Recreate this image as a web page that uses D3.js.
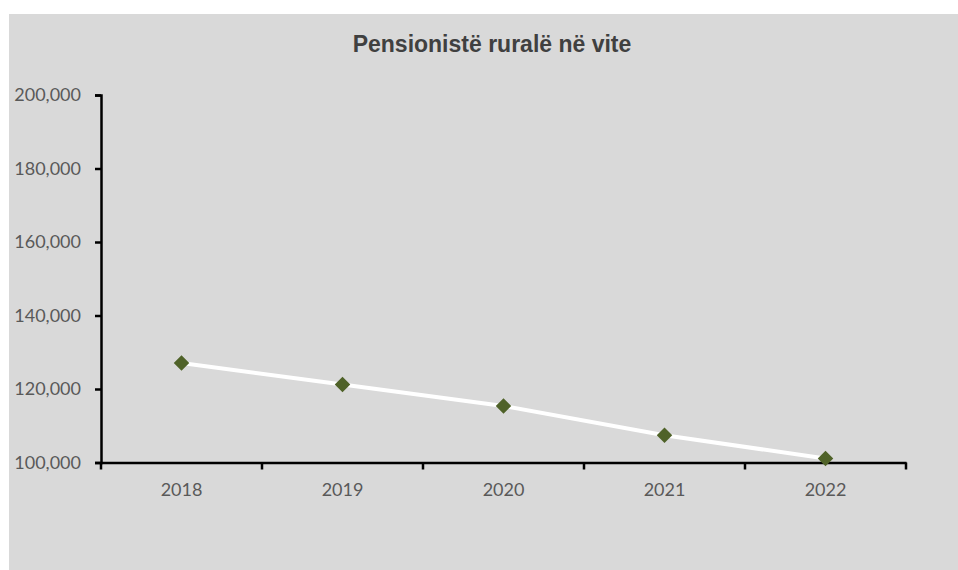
<!DOCTYPE html>
<html><head><meta charset="utf-8">
<script src="https://cdn.jsdelivr.net/npm/d3@7"></script>
<style>body{margin:0;background:#fff;}svg{display:block;}</style>
</head><body>
<svg id="c" width="958" height="570"></svg>
<script>
const title = "Pensionistë ruralë në vite";
const categories = ["2018", "2019", "2020", "2021", "2022"];
const values = [127100, 121200, 115400, 107400, 101100];
const yTicks = [100000, 120000, 140000, 160000, 180000, 200000];

const svg = d3.select("#c");
svg.append("rect").attr("x", 9).attr("y", 14).attr("width", 949).attr("height", 556).attr("fill", "#d9d9d9");

const m = {left: 101, right: 906, top: 95, bottom: 462.5};
const x = d3.scaleBand().domain(categories).range([m.left, m.right]);
const y = d3.scaleLinear().domain([100000, 200000]).range([m.bottom, m.top]);

svg.append("text").attr("x", 492).attr("y", 52).attr("text-anchor", "middle")
  .attr("font-family", "Liberation Sans, Arial, sans-serif").attr("font-weight", "bold")
  .attr("font-size", 23).attr("fill", "#404040").text(title);

// Y axis
const yAxis = d3.axisLeft(y).tickValues(yTicks).tickSize(6).tickPadding(14).tickFormat(d3.format(","));
const gy = svg.append("g").attr("transform", `translate(${m.left},0)`).call(yAxis);
gy.select(".domain").attr("stroke", "#000").attr("stroke-width", 2.5);
gy.selectAll(".tick line").attr("stroke", "#000").attr("stroke-width", 2.5);
gy.selectAll(".tick text").attr("font-family", "Lato, sans-serif").attr("font-size", 18).attr("fill", "#595959");

// X axis
const xAxis = d3.axisBottom(x).tickSize(0).tickPadding(21);
const gx = svg.append("g").attr("transform", `translate(0,${m.bottom})`).call(xAxis);
gx.select(".domain").attr("stroke", "#000").attr("stroke-width", 2.5);
gx.selectAll(".tick text").attr("font-family", "Lato, sans-serif").attr("font-size", 18).attr("fill", "#595959");
// boundary ticks
const bounds = categories.map(c => x(c)).concat([x(categories[categories.length-1]) + x.bandwidth()]);
gx.selectAll(".btick").data(bounds).enter().append("line")
  .attr("x1", d => d).attr("x2", d => d).attr("y1", 0).attr("y2", 7)
  .attr("stroke", "#000").attr("stroke-width", 2.5);

// Line
const line = d3.line().x((d, i) => x(categories[i]) + x.bandwidth()/2).y(d => y(d));
svg.append("path").datum(values).attr("d", line).attr("fill", "none")
  .attr("stroke", "#ffffff").attr("stroke-width", 4);

// Markers
svg.selectAll(".mk").data(values).enter().append("path")
  .attr("transform", (d, i) => `translate(${x(categories[i]) + x.bandwidth()/2},${y(d)}) rotate(45)`)
  .attr("d", "M-5.5,-5.5H5.5V5.5H-5.5Z").attr("fill", "#4f6228");
</script>
</body></html>
